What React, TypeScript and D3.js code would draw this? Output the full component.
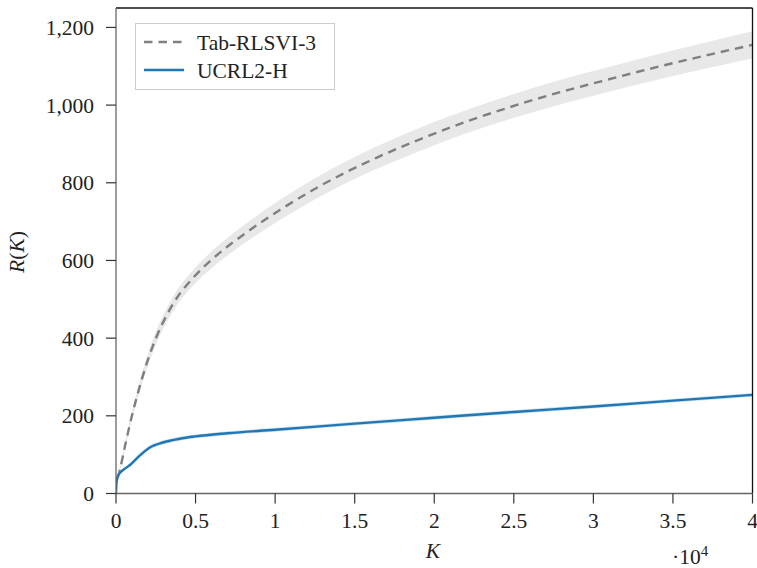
import React from "react";
import * as d3 from "d3";

const tabK = [100, 250, 565, 1000, 1400, 1930, 2560, 3200, 3800, 4860, 6100, 8200, 10300, 12400, 14500, 16400, 19100, 22200, 25400, 28500, 30000, 34200, 37300, 40000];
const tabR = [40, 62, 122, 200, 262, 335, 405, 460, 502, 556, 605, 672, 730, 782, 828, 865, 912, 960, 1003, 1040, 1056, 1100, 1130, 1155];
const tabHalf = [4, 6, 9, 11, 13, 15, 17, 18, 19, 20, 22, 24, 26, 27, 28, 29, 30, 30, 31, 32, 32, 33, 34, 35];

const ucrlK = [0, 30, 100, 250, 500, 900, 1500, 2100, 3000, 4000, 5000, 7000, 10000, 15000, 20000, 25000, 30000, 35000, 40000];
const ucrlR = [0, 25, 42, 53, 62, 74, 98, 118, 132, 141, 147, 155, 164, 180, 195, 210, 224, 239, 254];
const ucrlHalf = [0, 3, 4, 4, 4, 4, 5, 5, 5, 5, 5, 5, 5, 5, 5, 5, 5, 5, 5];

const xTicks = [0, 5000, 10000, 15000, 20000, 25000, 30000, 35000, 40000];
const xTickLabels = ["0", "0.5", "1", "1.5", "2", "2.5", "3", "3.5", "4"];
const yTicks = [0, 200, 400, 600, 800, 1000, 1200];
const yTickLabels = ["0", "200", "400", "600", "800", "1,000", "1,200"];

const seriesNames = ["Tab-RLSVI-3", "UCRL2-H"];

const W = 757, H = 568;
const L = 116, R = 752.5, T = 8, B = 493.5;
const FONT = "'Liberation Serif', 'Times New Roman', serif";

export default function App() {
  const x = d3.scaleLinear().domain([0, 40000]).range([L, R]);
  const y = d3.scaleLinear().domain([0, 1250]).range([B, T]);

  const tab = tabK.map((k, i) => ({ k, r: tabR[i], h: tabHalf[i] }));
  const ucrl = ucrlK.map((k, i) => ({ k, r: ucrlR[i], h: ucrlHalf[i] }));

  const line = d3.line<any>().x(d => x(d.k)).y(d => y(d.r)).curve(d3.curveMonotoneX);
  const area = d3.area<any>().x(d => x(d.k)).y0(d => y(d.r - d.h)).y1(d => y(d.r + d.h)).curve(d3.curveMonotoneX);

  return (
    <svg width={W} height={H} style={{ position: "absolute", left: 0, top: 0, background: "#fff" }} fontFamily={FONT}>
      <defs>
        <clipPath id="plot">
          <rect x={L} y={T} width={R - L} height={B - T} />
        </clipPath>
      </defs>
      <g clipPath="url(#plot)">
        <path d={area(tab) || ""} fill="#e8e8e8" />
        <path d={line(tab) || ""} fill="none" stroke="#7f7f7f" strokeWidth={2.4} strokeDasharray="8.5,6" />
        <path d={area(ucrl) || ""} fill="#cfe1f0" />
        <path d={line(ucrl) || ""} fill="none" stroke="#1f77b4" strokeWidth={2.4} />
      </g>
      <line x1={L} x2={R} y1={T} y2={T} stroke="#111" strokeWidth={1.3} />
      <line x1={R} x2={R} y1={T} y2={B} stroke="#111" strokeWidth={1.3} />
      <line x1={L} x2={L} y1={T} y2={B} stroke="#666" strokeWidth={1.3} />
      <line x1={L} x2={R} y1={B} y2={B} stroke="#666" strokeWidth={1.3} />
      {yTicks.map((v, i) => (
        <g key={"y" + i}>
          <line x1={L - 10} x2={L} y1={y(v)} y2={y(v)} stroke="#333" strokeWidth={1.2} />
          <text x={94} y={y(v)} dy="0.35em" textAnchor="end" fontSize={21.5} fill="#222">{yTickLabels[i]}</text>
        </g>
      ))}
      {xTicks.map((v, i) => (
        <g key={"x" + i}>
          <line x1={x(v)} x2={x(v)} y1={B} y2={B + 10} stroke="#333" strokeWidth={1.2} />
          <text x={x(v)} y={528} textAnchor="middle" fontSize={21.5} fill="#222">{xTickLabels[i]}</text>
        </g>
      ))}
      <text x={672} y={564} fontSize={21.5} fill="#222">·10<tspan dy={-8} fontSize={15}>4</tspan></text>
      <text x={433} y={558} textAnchor="middle" fontSize={21.5} fontStyle="italic" fill="#222">K</text>
      <text transform={`translate(24,252) rotate(-90)`} textAnchor="middle" fontSize={21.5} fill="#222">
        <tspan fontStyle="italic">R</tspan>(<tspan fontStyle="italic">K</tspan>)
      </text>
      <rect x={135.5} y={23.5} width={199} height={66} fill="#fff" stroke="#cccccc" strokeWidth={1} />
      <line x1={144} x2={184} y1={42} y2={42} stroke="#7f7f7f" strokeWidth={2.4} strokeDasharray="8.5,6" />
      <text x={197} y={42} dy="0.35em" fontSize={21.5} fill="#222">{seriesNames[0]}</text>
      <line x1={144} x2={184} y1={70} y2={70} stroke="#1f77b4" strokeWidth={2.4} />
      <text x={197} y={70} dy="0.35em" fontSize={21.5} fill="#222">{seriesNames[1]}</text>
    </svg>
  );
}
